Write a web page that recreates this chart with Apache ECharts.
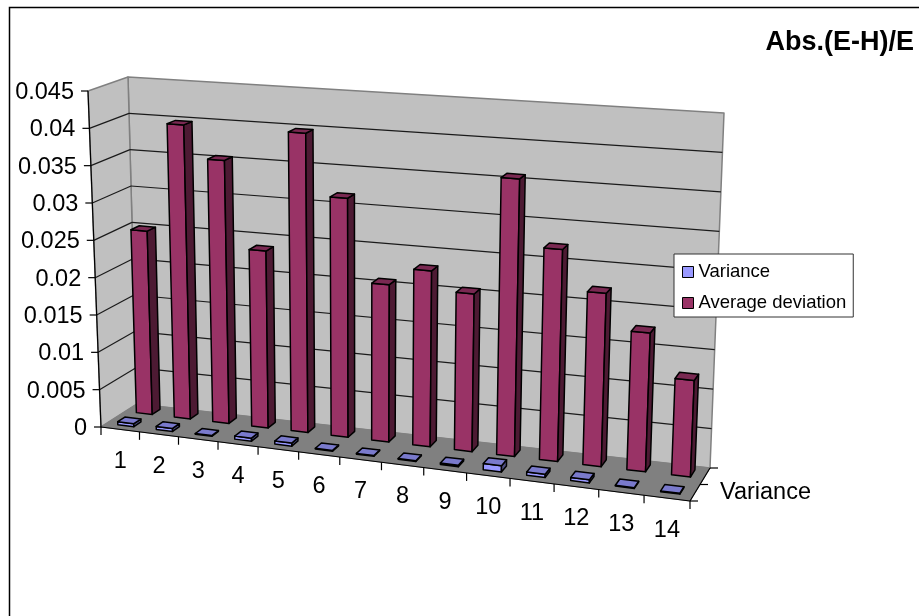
<!DOCTYPE html>
<html>
<head>
<meta charset="utf-8">
<style>
	html, body { margin: 0; padding: 0; background: #fff; }
	#chart { width: 919px; height: 616px; }
</style>
<script src="https://cdn.jsdelivr.net/npm/echarts@6/dist/echarts.min.js"></script>
</head>
<body>
<div id="chart"></div>
<script>
const categories = ['1', '2', '3', '4', '5', '6', '7', '8', '9', '10', '11', '12', '13', '14'];
const varianceValues = [0.0004, 0.0004, 0.0001, 0.0004, 0.0004, 0.0001, 0.0001, 0.0001, 0.0002, 0.0008, 0.0004, 0.0004, 0.0001, 0.0001];
const averageDeviation = [0.0249, 0.0397, 0.0353, 0.0236, 0.0397, 0.0315, 0.0206, 0.0229, 0.0204, 0.0357, 0.0271, 0.022, 0.0175, 0.0121];
const valueTicks = [0, 0.005, 0.01, 0.015, 0.02, 0.025, 0.03, 0.035, 0.04, 0.045];
const font = 'Liberation Sans';
const labelSize = 23.5;

const myChart = echarts.init(document.getElementById('chart'));

// corners of the 3D box on screen: [u][depth][height]
const box = [
	[[[101, 427], [88, 91]], [[137, 404], [128, 77]]],
	[[[690, 501], [706, 131]], [[710, 468], [724, 113]]]
];
const grid = { left: 100, top: 100, width: 500, height: 300 };

function lerp(a, b, t) {
	return [a[0] + (b[0] - a[0]) * t, a[1] + (b[1] - a[1]) * t];
}

// u, v are 0..1 inside the grid, d is 0 (front) to 1 (back)
function place(u, d, v) {
	const w = 1.1;
	const p = u / (w + (1 - w) * u);
	const front = lerp(lerp(box[0][0][0], box[0][0][1], v), lerp(box[1][0][0], box[1][0][1], v), p);
	const back = lerp(lerp(box[0][1][0], box[0][1][1], v), lerp(box[1][1][0], box[1][1][1], v), p);
	return lerp(front, back, d);
}

// goes through the cartesian axes first, then into the box
function project(api, index, offset, d, value) {
	const pt = api.coord([index, value]);
	const band = api.size([1, 0])[0];
	const u = (pt[0] + offset * band - grid.left) / grid.width;
	const v = (grid.top + grid.height - pt[1]) / grid.height;
	return place(u, d, v);
}

function poly(points, fill, stroke, width) {
	return {
		type: 'polygon',
		shape: { points: points },
		style: { fill: fill, stroke: stroke, lineWidth: width === undefined ? 1 : width, lineJoin: 'round' }
	};
}

function line(a, b, color, width) {
	return {
		type: 'line',
		shape: { x1: a[0], y1: a[1], x2: b[0], y2: b[1] },
		style: { stroke: color, lineWidth: width || 1, fill: null }
	};
}

function label(text, x, y, size, align) {
	return {
		type: 'text',
		style: {
			text: text, x: x, y: y, fill: '#000', font: size + 'px "' + font + '"',
			align: align || 'center', verticalAlign: 'middle'
		}
	};
}

// one bar as a box with front, side and top
function barRenderer(d0, d1, halfWidth, colors) {
	return function (params, api) {
		const i = api.value(0);
		const val = api.value(1);
		const fb = project(api, i, -halfWidth, d0, 0);
		const fr = project(api, i, halfWidth, d0, 0);
		const ft = project(api, i, -halfWidth, d0, val);
		const frt = project(api, i, halfWidth, d0, val);
		const br = project(api, i, halfWidth, d1, 0);
		const brt = project(api, i, halfWidth, d1, val);
		const blt = project(api, i, -halfWidth, d1, val);
		return {
			type: 'group',
			children: [
				poly([fb, fr, frt, ft], colors[0], '#000', 1.5),
				poly([fr, br, brt, frt], colors[1], '#000', 1.5),
				poly([ft, frt, brt, blt], colors[2], '#000', 1.5)
			]
		};
	};
}

function renderRoom(params, api) {
	const n = categories.length;
	const last = valueTicks[valueTicks.length - 1];
	const children = [
		poly([place(0, 1, 0), place(1, 1, 0), place(1, 1, 1), place(0, 1, 1)], '#c0c0c0', '#808080', 1.5),
		poly([place(0, 0, 0), place(0, 1, 0), place(0, 1, 1), place(0, 0, 1)], '#c0c0c0', '#808080', 1.5)
	];
	valueTicks.forEach(function (tick) {
		if (tick === 0 || tick === last) return;
		const a = project(api, 0, -0.5, 0, tick);
		const b = project(api, 0, -0.5, 1, tick);
		const c = project(api, n - 1, 0.5, 1, tick);
		children.push(line(a, b, '#1a1a1a', 1.2));
		children.push(line(b, c, '#1a1a1a', 1.2));
	});
	children.push(poly([place(0, 0, 0), place(1, 0, 0), place(1, 1, 0), place(0, 1, 0)], '#808080', '#808080'));
	return { type: 'group', children: children };
}

function renderAxes(params, api) {
	const n = categories.length;
	const children = [];
	const top = valueTicks[valueTicks.length - 1];
	children.push(line(project(api, 0, -0.5, 0, 0), project(api, 0, -0.5, 0, top), '#000', 1.2));
	valueTicks.forEach(function (tick) {
		const p = project(api, 0, -0.5, 0, tick);
		children.push(line([p[0] - 7, p[1]], p, '#000', 1.2));
		children.push(label(String(tick), p[0] - 14, p[1] + 1.5, labelSize, 'right'));
	});
	children.push(line(project(api, 0, -0.5, 0, 0), project(api, n - 1, 0.5, 0, 0), '#000', 1.2));
	for (let i = 0; i <= n; i++) {
		const p = project(api, i === n ? n - 1 : i, i === n ? 0.5 : -0.5, 0, 0);
		children.push(line(p, [p[0], p[1] + 8], '#000', 1.2));
	}
	categories.forEach(function (name, i) {
		const p = project(api, i, 0, 0, 0);
		children.push(label(name, p[0], p[1] + 32, labelSize));
	});
	const fr = place(1, 0, 0);
	const mid = place(1, 0.5, 0);
	const bk = place(1, 1, 0);
	children.push(line(fr, bk, '#000', 1.2));
	children.push(line(fr, [fr[0] + 8, fr[1]], '#000', 1.2));
	children.push(line(mid, [mid[0] + 8, mid[1]], '#000', 1.2));
	children.push(line(bk, [bk[0] + 8, bk[1]], '#000', 1.2));
	children.push(label('Variance', mid[0] + 20, mid[1] + 8, labelSize, 'left'));
	return { type: 'group', children: children };
}

function rows(values) {
	return values.map(function (v, i) { return [i, v]; });
}

const option = {
	animation: false,
	backgroundColor: '#fff',
	grid: { left: grid.left, top: grid.top, width: grid.width, height: grid.height },
	xAxis: { type: 'category', data: categories, show: false },
	yAxis: { type: 'value', min: 0, max: 0.045, interval: 0.005, show: false },
	title: {
		text: 'Abs.(E-H)/E',
		right: 5,
		top: 29,
		padding: 0,
		textStyle: { fontFamily: font, fontSize: 27, fontWeight: 'bold', color: '#000' }
	},
	legend: {
		orient: 'vertical',
		left: 674,
		top: 254,
		padding: [8, 7, 4, 8],
		itemGap: 11,
		itemWidth: 11,
		itemHeight: 11,
		icon: 'rect',
		backgroundColor: '#fff',
		borderColor: '#333',
		borderWidth: 1,
		itemStyle: { borderColor: '#000', borderWidth: 1 },
		textStyle: { fontFamily: font, fontSize: 18.5, lineHeight: 20, color: '#000' },
		data: ['Variance', 'Average deviation']
	},
	graphic: [{
		type: 'polyline',
		shape: { points: [[9.5, 616], [9.5, 7.5], [919, 7.5]] },
		style: { stroke: '#000', lineWidth: 1.5, fill: null }
	}],
	series: [
		{
			type: 'custom',
			name: 'room',
			renderItem: renderRoom,
			data: [[0, 0]],
			silent: true
		},
		{
			type: 'custom',
			name: 'Average deviation',
			renderItem: barRenderer(0.68, 0.9, 0.21, ['#993366', '#4d1a33', '#7a2952']),
			itemStyle: { color: '#993366' },
			data: rows(averageDeviation)
		},
		{
			type: 'custom',
			name: 'Variance',
			renderItem: barRenderer(0.16, 0.36, 0.21, ['#9999ff', '#4d4d80', '#7a7acc']),
			itemStyle: { color: '#9999ff' },
			data: rows(varianceValues)
		},
		{
			type: 'custom',
			name: 'axes',
			renderItem: renderAxes,
			data: [[0, 0]],
			silent: true
		}
	]
};

myChart.setOption(option);
</script>
</body>
</html>
